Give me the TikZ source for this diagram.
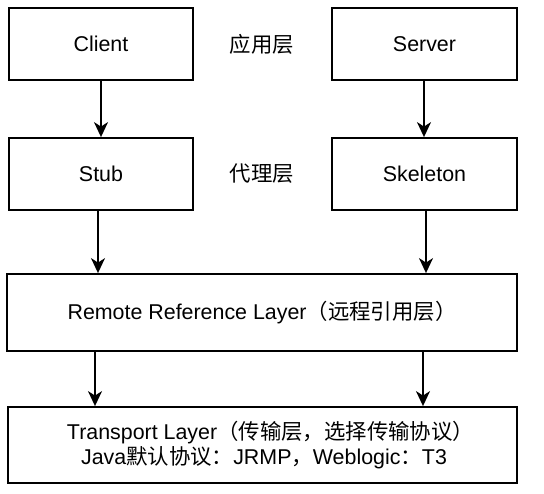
\documentclass[tikz,border=0pt]{standalone}
\usepackage{fontspec}
\setmainfont{Liberation Sans}
\newfontfamily\cjk{Noto Sans CJK SC}
\usetikzlibrary{arrows.meta}
\begin{document}
\begin{tikzpicture}[x=1pt,y=-1pt,
  box/.style={draw=black,line width=1.8pt,fill=white,inner sep=0pt,align=center,
    font=\fontsize{21.4}{25.7}\selectfont},
  lbl/.style={inner sep=0pt,font=\fontsize{21.4}{25.7}\selectfont\cjk},
  arr/.style={line width=1.8pt,-{Stealth[length=15pt,width=14pt,inset=4.5pt]}}]
\useasboundingbox[fill=white] (0,0) rectangle (544,494);
\node[box,minimum width=184pt,minimum height=72pt] (client) at (101,44) {Client};
\node[box,minimum width=185pt,minimum height=72pt] (server) at (424.5,44) {Server};
\node[box,minimum width=184pt,minimum height=72pt] (stub) at (101,174) {Stub};
\node[box,minimum width=185pt,minimum height=72pt] (skeleton) at (424.5,174) {Skeleton};
\node[box,minimum width=510pt,minimum height=77pt] (remote) at (262,312.5) {Remote Reference Layer{\cjk（远程引用层）}};
\node[box,minimum width=509pt,minimum height=76pt] (transport) at (262.5,445) {\hspace*{16pt}Transport Layer{\cjk（传输层，选择传输协议）}\\ \hspace*{3pt}Java{\cjk 默认协议：}JRMP{\cjk ，}Weblogic{\cjk ：}T3};
\node[lbl] (app) at (262,44) {应用层};
\node[lbl] (proxy) at (262,174) {代理层};
\draw[arr] (client) -- (stub);
\draw[arr] ([xshift=-0.5pt]server.south) -- ([xshift=-0.5pt]server.south |- skeleton.north);
\draw[arr] ([xshift=-3pt]stub.south) -- ([xshift=-3pt]stub.south |- remote.north);
\draw[arr] ([xshift=1.5pt]skeleton.south) -- ([xshift=1.5pt]skeleton.south |- remote.north);
\draw[arr] ([xshift=-6pt]stub.south |- remote.south) -- ([xshift=-6pt]stub.south |- transport.north);
\draw[arr] ([xshift=-1.5pt]skeleton.south |- remote.south) -- ([xshift=-1.5pt]skeleton.south |- transport.north);
\end{tikzpicture}
\end{document}
